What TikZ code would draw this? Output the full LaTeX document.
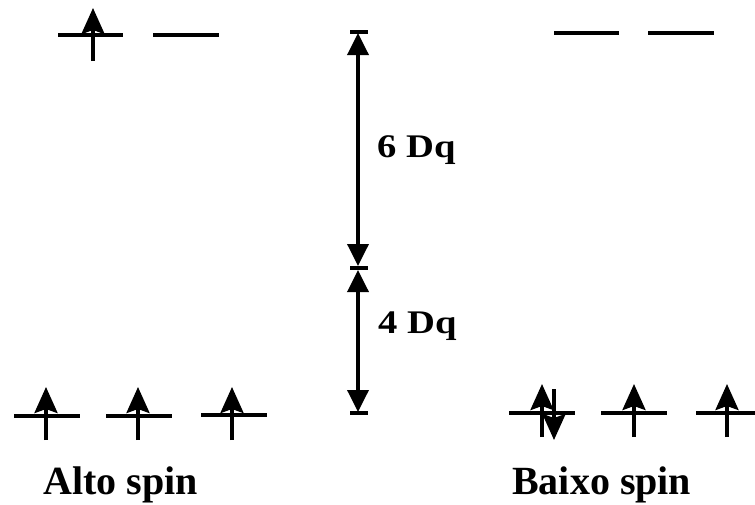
\documentclass[tikz,border=0pt]{standalone}
\usepackage{fontspec}
\setmainfont{Liberation Serif}
\usetikzlibrary{arrows.meta}
\begin{document}
\begin{tikzpicture}[x=1pt,y=-1pt,
  level/.style={line width=3.6pt},
  spin/.style={line width=3.6pt,-{Stealth[length=26pt,width=23pt,inset=4pt]}},
  gap/.style={line width=3.6pt,{Triangle[length=22pt,width=21pt]}-{Triangle[length=22pt,width=21pt]}},
  tick/.style={line width=3.2pt},
  dq/.style={anchor=base west,inner sep=0pt,font=\fontsize{33}{36}\selectfont\bfseries},
  lab/.style={anchor=base west,inner sep=0pt,font=\fontsize{40}{44}\selectfont\bfseries}]
\useasboundingbox (0,0) rectangle (755,504);
% top-left levels
\coordinate (tl1a) at (58,35); \coordinate (tl1b) at (123,35);
\coordinate (tl2a) at (153,35); \coordinate (tl2b) at (219,35);
\draw[level] (tl1a) -- (tl1b);
\draw[level] (tl2a) -- (tl2b);
\coordinate (s1a) at (93,61); \coordinate (s1b) at (93,8);
\draw[spin] (s1a) -- (s1b);
% top-right levels
\coordinate (tr1a) at (554,33); \coordinate (tr1b) at (619,33);
\coordinate (tr2a) at (648,33); \coordinate (tr2b) at (714,33);
\draw[level] (tr1a) -- (tr1b);
\draw[level] (tr2a) -- (tr2b);
% bottom-left levels
\coordinate (bl1a) at (14,416); \coordinate (bl1b) at (80,416);
\coordinate (bl2a) at (106,416); \coordinate (bl2b) at (172,416);
\coordinate (bl3a) at (201,415); \coordinate (bl3b) at (267,415);
\draw[level] (bl1a) -- (bl1b);
\draw[level] (bl2a) -- (bl2b);
\draw[level] (bl3a) -- (bl3b);
\coordinate (s2a) at (46,440); \coordinate (s2b) at (46,387);
\coordinate (s3a) at (138,440); \coordinate (s3b) at (138,387);
\coordinate (s4a) at (232,440); \coordinate (s4b) at (232,387);
\draw[spin] (s2a) -- (s2b);
\draw[spin] (s3a) -- (s3b);
\draw[spin] (s4a) -- (s4b);
% bottom-right levels
\coordinate (br1a) at (509,413); \coordinate (br1b) at (575,413);
\coordinate (br2a) at (601,413); \coordinate (br2b) at (667,413);
\coordinate (br3a) at (696,413); \coordinate (br3b) at (755,413);
\draw[level] (br1a) -- (br1b);
\draw[level] (br2a) -- (br2b);
\draw[level] (br3a) -- (br3b);
\coordinate (s5a) at (542,437); \coordinate (s5b) at (542,384);
\coordinate (s6a) at (554,389); \coordinate (s6b) at (554,440);
\coordinate (s7a) at (634,437); \coordinate (s7b) at (634,384);
\coordinate (s8a) at (727,437); \coordinate (s8b) at (727,384);
\draw[spin] (s5a) -- (s5b);
\draw[spin] (s6a) -- (s6b);
\draw[spin] (s7a) -- (s7b);
\draw[spin] (s8a) -- (s8b);
% energy gap arrows
\coordinate (g1) at (358,33); \coordinate (g2) at (358,266);
\coordinate (g3) at (358,270); \coordinate (g4) at (358,412);
\draw[gap] (g2) -- (g1);
\draw[gap] (g3) -- (g4);
\coordinate (t1a) at (350,32); \coordinate (t1b) at (368,32);
\coordinate (t2a) at (350,268); \coordinate (t2b) at (368,268);
\coordinate (t3a) at (350,413); \coordinate (t3b) at (368,413);
\draw[tick] (t1a) -- (t1b);
\draw[tick] (t2a) -- (t2b);
\draw[tick] (t3a) -- (t3b);
% labels
\node[dq] (d6) at (377,157) {\scalebox{1.17}[1]{6 Dq}};
\node[dq] (d4) at (378,333) {\scalebox{1.17}[1]{4 Dq}};
\node[lab] (alto) at (43,494) {Alto spin};
\node[lab] (baixo) at (512,494) {Baixo spin};
\end{tikzpicture}
\end{document}
